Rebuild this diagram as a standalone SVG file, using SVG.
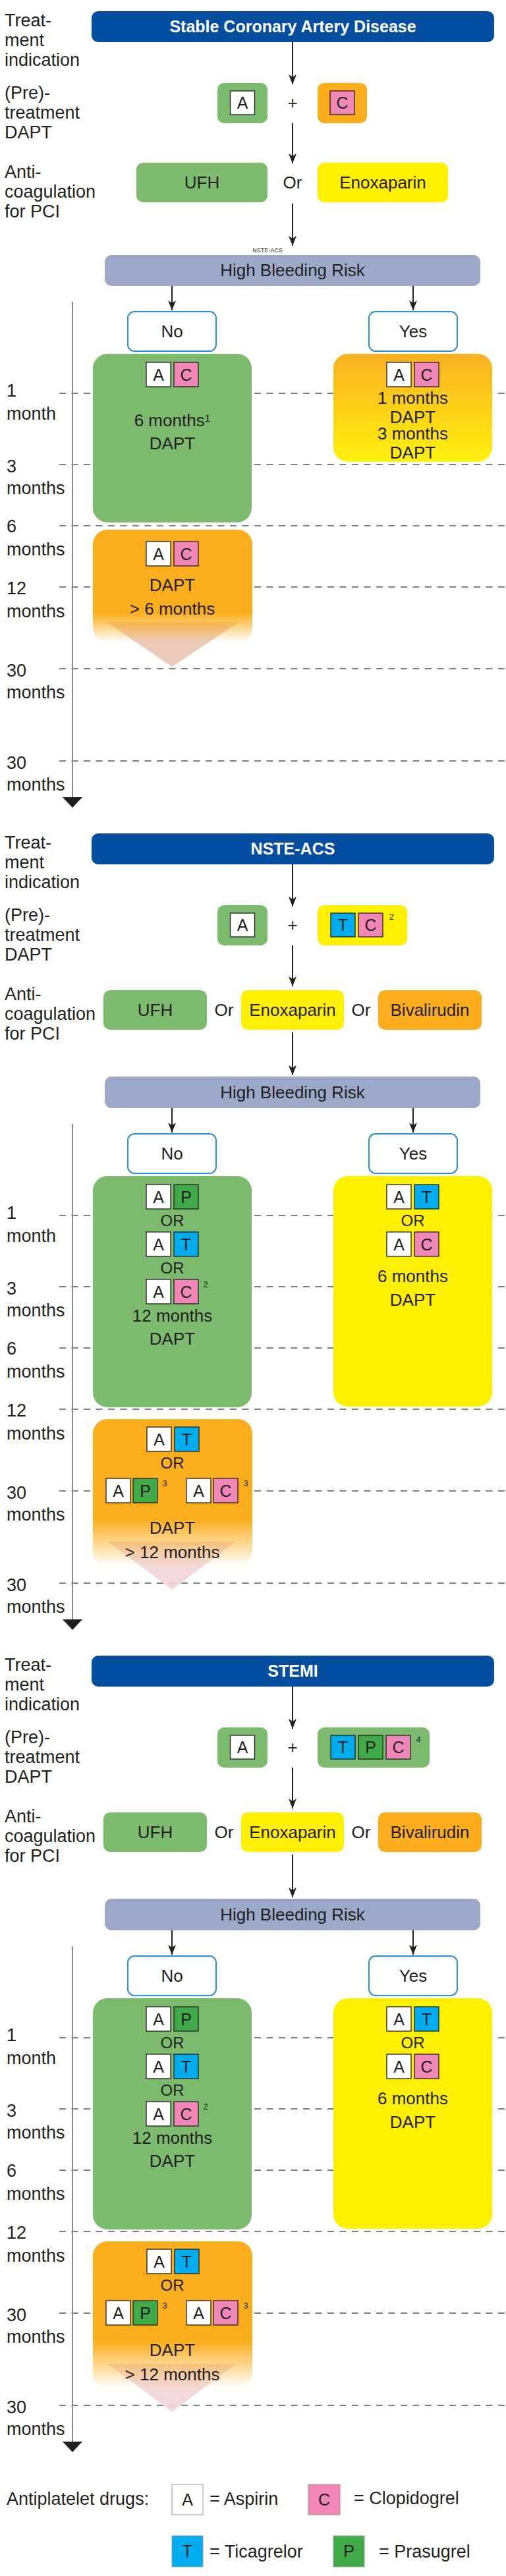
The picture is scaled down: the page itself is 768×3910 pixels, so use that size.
<svg xmlns="http://www.w3.org/2000/svg" width="768" height="3910" viewBox="0 0 768 3910">
<defs>
<style>
.f{font-family:"Liberation Sans",Arial,sans-serif;fill:#231f20}
.c{text-anchor:middle}
.lb{font-size:27px}
.m{font-size:26px}
.o{font-size:24px}
.h{font-size:25px;font-weight:bold;fill:#ffffff}
.d{font-size:25px}
.s{font-size:13px}
.tiny{font-size:9px}
.hdr{fill:#044ea1}
.grn{fill:#7cbb6d}
.org{fill:#fbad1b}
.yel{fill:#fff000}
.hbr{fill:#9da8c8}
.yn{fill:#ffffff;stroke:#2a8fd6;stroke-width:2}
.db{stroke:#231f20;stroke-width:1.3}
.bA{fill:#ffffff}
.bC{fill:#f087b7}
.bT{fill:#00adee}
.bP{fill:#40aa48}
.lg{stroke:#999999;stroke-width:1}
.dash{stroke:#555555;stroke-width:1.5;stroke-dasharray:10 8.5;fill:none}
.tl{stroke:#8a8a8a;stroke-width:2;fill:none}
.ah{fill:#231f20}
.conn{stroke:#231f20;stroke-width:2;fill:none;marker-end:url(#arrow)}
</style>
<marker id="arrow" viewBox="0 0 15 12" refX="15" refY="6" markerWidth="15" markerHeight="12" markerUnits="userSpaceOnUse" orient="auto">
<path d="M0,0 L15,6 L0,12 L4,6 Z" fill="#231f20"/>
</marker>
<linearGradient id="yesGrad" x1="0" y1="0" x2="0" y2="1">
<stop offset="0" stop-color="#f9b022"/>
<stop offset="1" stop-color="#fff10d"/>
</linearGradient>
<linearGradient id="fade1" x1="0" y1="0" x2="0" y2="1">
<stop offset="0" stop-color="#fbae1c" stop-opacity="1"/>
<stop offset="0.74" stop-color="#fbae1c" stop-opacity="1"/>
<stop offset="1" stop-color="#fbae1c" stop-opacity="0"/>
</linearGradient>
<linearGradient id="fade2" x1="0" y1="0" x2="0" y2="1">
<stop offset="0" stop-color="#fbae1c" stop-opacity="1"/>
<stop offset="0.68" stop-color="#fbae1c" stop-opacity="1"/>
<stop offset="1" stop-color="#fbae1c" stop-opacity="0"/>
</linearGradient>
</defs>
<rect x="0" y="0" width="768" height="3910" fill="#ffffff"/>

<!-- ============ SECTION 1 ============ -->
<g id="s1-rowlabels">
<text x="7" y="40" class="f lb">Treat-</text>
<text x="7" y="70" class="f lb">ment</text>
<text x="7" y="100" class="f lb">indication</text>
<text x="7" y="150" class="f lb">(Pre)-</text>
<text x="7" y="180" class="f lb">treatment</text>
<text x="7" y="210" class="f lb">DAPT</text>
<text x="7" y="270" class="f lb">Anti-</text>
<text x="7" y="300" class="f lb">coagulation</text>
<text x="7" y="330" class="f lb">for PCI</text>
</g>
<g id="s1-header"><rect x="139" y="17" width="611" height="47" rx="10" class="hdr"/><text x="444.5" y="49" class="f h c">Stable Coronary Artery Disease</text></g>
<g id="s1-pre-A"><rect x="330" y="126" width="76" height="61" rx="10" class="grn"/><rect x="349.5" y="138" width="37" height="36" class="db bA"/><text x="368" y="165" class="f d c">A</text></g>
<g id="s1-plus"><text x="444" y="165" class="f m c">+</text></g>
<g id="s1-pre-C"><rect x="482" y="126" width="75" height="61" rx="10" class="org"/><rect x="501" y="138" width="37" height="36" class="db bC"/><text x="519.5" y="165" class="f d c">C</text></g>
<g id="s1-ufh"><rect x="207" y="247" width="199" height="60" rx="10" class="grn"/><text x="306.5" y="286" class="f m c">UFH</text></g>
<g id="s1-or"><text x="444" y="286" class="f m c">Or</text></g>
<g id="s1-enox"><rect x="482" y="247" width="198" height="60" rx="10" class="yel"/><text x="581" y="286" class="f m c">Enoxaparin</text></g>
<g id="s1-note"><text x="406" y="383" class="f tiny c">NSTE-ACS</text></g>
<g id="s1-hbr"><rect x="159" y="387" width="570" height="47" rx="10" class="hbr"/><text x="444" y="419" class="f m c">High Bleeding Risk</text></g>

<g id="s1-timeline">
<line x1="90" y1="597" x2="768" y2="597" class="dash"/>
<line x1="90" y1="705" x2="768" y2="705" class="dash"/>
<line x1="90" y1="798" x2="768" y2="798" class="dash"/>
<line x1="90" y1="891" x2="768" y2="891" class="dash"/>
<line x1="90" y1="1015" x2="768" y2="1015" class="dash"/>
<line x1="90" y1="1155" x2="768" y2="1155" class="dash"/>
<line x1="110" y1="458" x2="110" y2="1212" class="tl"/>
<polygon points="95,1210 125,1210 110,1226" class="ah"/>
<text x="10" y="602" class="f lb">1</text><text x="10" y="637" class="f lb">month</text>
<text x="10" y="717" class="f lb">3</text><text x="10" y="750" class="f lb">months</text>
<text x="10" y="808" class="f lb">6</text><text x="10" y="843" class="f lb">months</text>
<text x="10" y="902" class="f lb">12</text><text x="10" y="937" class="f lb">months</text>
<text x="10" y="1027" class="f lb">30</text><text x="10" y="1060" class="f lb">months</text>
<text x="10" y="1167" class="f lb">30</text><text x="10" y="1200" class="f lb">months</text>
</g>

<g id="s1-no"><rect x="194" y="473" width="134" height="60" rx="10" class="yn"/><text x="261" y="512" class="f m c">No</text></g>
<g id="s1-yes"><rect x="560" y="473" width="134" height="60" rx="10" class="yn"/><text x="627" y="512" class="f m c">Yes</text></g>

<g id="s1-no-6m">
<rect x="141" y="537" width="241" height="256" rx="22" class="grn"/>
<rect x="222" y="550" width="37" height="37" class="db bA"/><text x="240.5" y="577.5" class="f d c">A</text>
<rect x="264" y="550" width="37" height="37" class="db bC"/><text x="282.5" y="577.5" class="f d c">C</text>
<text x="261.5" y="647" class="f m c">6 months¹</text>
<text x="261.5" y="682" class="f m c">DAPT</text>
</g>
<g id="s1-yes-short">
<rect x="506" y="537" width="241" height="164" rx="22" fill="url(#yesGrad)"/>
<rect x="587" y="550" width="37" height="37" class="db bA"/><text x="605.5" y="577.5" class="f d c">A</text>
<rect x="629" y="550" width="37" height="37" class="db bC"/><text x="647.5" y="577.5" class="f d c">C</text>
<text x="626.5" y="613" class="f m c">1 months</text>
<text x="626.5" y="642" class="f m c">DAPT</text>
<text x="626.5" y="667" class="f m c">3 months</text>
<text x="626.5" y="696" class="f m c">DAPT</text>
</g>
<g id="s1-no-long">
<polygon points="161,944 363,944 261,1012" fill="#ebcab9"/>
<rect x="141" y="804" width="242" height="171" rx="22" fill="url(#fade1)"/>
<rect x="222" y="822" width="37" height="37" class="db bA"/><text x="240.5" y="849.5" class="f d c">A</text>
<rect x="264" y="822" width="37" height="37" class="db bC"/><text x="282.5" y="849.5" class="f d c">C</text>
<text x="261.5" y="897" class="f m c">DAPT</text>
<text x="261.5" y="933" class="f m c">&gt; 6 months</text>
</g>

<!-- ============ SECTION 2 ============ -->
<g id="s2-rowlabels">
<text x="7" y="1288" class="f lb">Treat-</text>
<text x="7" y="1318" class="f lb">ment</text>
<text x="7" y="1348" class="f lb">indication</text>
<text x="7" y="1398" class="f lb">(Pre)-</text>
<text x="7" y="1428" class="f lb">treatment</text>
<text x="7" y="1458" class="f lb">DAPT</text>
<text x="7" y="1518" class="f lb">Anti-</text>
<text x="7" y="1548" class="f lb">coagulation</text>
<text x="7" y="1578" class="f lb">for PCI</text>
</g>
<g id="s2-header"><rect x="139" y="1265" width="611" height="47" rx="10" class="hdr"/><text x="444.5" y="1297" class="f h c">NSTE-ACS</text></g>
<g id="s2-pre-A"><rect x="330" y="1374" width="76" height="61" rx="10" class="grn"/><rect x="349.5" y="1386" width="37" height="36" class="db bA"/><text x="368" y="1413" class="f d c">A</text></g>
<g id="s2-plus"><text x="444" y="1413" class="f m c">+</text></g>
<g id="s2-pre-TC"><rect x="482" y="1374" width="136" height="61" rx="10" class="yel"/>
<rect x="502" y="1386" width="37" height="36" class="db bT"/><text x="520.5" y="1413" class="f d c">T</text>
<rect x="544" y="1386" width="37" height="36" class="db bC"/><text x="562.5" y="1413" class="f d c">C</text>
<text x="594" y="1396" class="f s c">2</text></g>
<g id="s2-ufh"><rect x="157" y="1503" width="157" height="60" rx="10" class="grn"/><text x="235.5" y="1542" class="f m c">UFH</text></g>
<g id="s2-or1"><text x="340" y="1542" class="f m c">Or</text></g>
<g id="s2-enox"><rect x="366" y="1503" width="156" height="60" rx="10" class="yel"/><text x="444" y="1542" class="f m c">Enoxaparin</text></g>
<g id="s2-or2"><text x="548" y="1542" class="f m c">Or</text></g>
<g id="s2-bival"><rect x="574" y="1503" width="157" height="60" rx="10" class="org"/><text x="652.5" y="1542" class="f m c">Bivalirudin</text></g>
<g id="s2-hbr"><rect x="159" y="1634" width="570" height="48" rx="10" class="hbr"/><text x="444" y="1667" class="f m c">High Bleeding Risk</text></g>

<g id="s2-timeline">
<line x1="90" y1="1845" x2="768" y2="1845" class="dash"/>
<line x1="90" y1="1953" x2="768" y2="1953" class="dash"/>
<line x1="90" y1="2046" x2="768" y2="2046" class="dash"/>
<line x1="90" y1="2139" x2="768" y2="2139" class="dash"/>
<line x1="90" y1="2263" x2="768" y2="2263" class="dash"/>
<line x1="90" y1="2403" x2="768" y2="2403" class="dash"/>
<line x1="110" y1="1706" x2="110" y2="2460" class="tl"/>
<polygon points="95,2458 125,2458 110,2474" class="ah"/>
<text x="10" y="1850" class="f lb">1</text><text x="10" y="1885" class="f lb">month</text>
<text x="10" y="1965" class="f lb">3</text><text x="10" y="1998" class="f lb">months</text>
<text x="10" y="2056" class="f lb">6</text><text x="10" y="2091" class="f lb">months</text>
<text x="10" y="2150" class="f lb">12</text><text x="10" y="2185" class="f lb">months</text>
<text x="10" y="2275" class="f lb">30</text><text x="10" y="2308" class="f lb">months</text>
<text x="10" y="2415" class="f lb">30</text><text x="10" y="2448" class="f lb">months</text>
</g>

<g id="s2-no"><rect x="194" y="1721" width="134" height="60" rx="10" class="yn"/><text x="261" y="1760" class="f m c">No</text></g>
<g id="s2-yes"><rect x="560" y="1721" width="134" height="60" rx="10" class="yn"/><text x="627" y="1760" class="f m c">Yes</text></g>

<g id="s2-no-12m">
<rect x="141" y="1785" width="241" height="351" rx="22" class="grn"/>
<rect x="222" y="1798" width="37" height="37" class="db bA"/><text x="240.5" y="1825.5" class="f d c">A</text>
<rect x="264" y="1798" width="37" height="37" class="db bP"/><text x="282.5" y="1825.5" class="f d c">P</text>
<text x="261.5" y="1861" class="f o c">OR</text>
<rect x="222" y="1870" width="37" height="37" class="db bA"/><text x="240.5" y="1897.5" class="f d c">A</text>
<rect x="264" y="1870" width="37" height="37" class="db bT"/><text x="282.5" y="1897.5" class="f d c">T</text>
<text x="261.5" y="1933" class="f o c">OR</text>
<rect x="222" y="1942" width="37" height="37" class="db bA"/><text x="240.5" y="1969.5" class="f d c">A</text>
<rect x="264" y="1942" width="37" height="37" class="db bC"/><text x="282.5" y="1969.5" class="f d c">C</text>
<text x="312" y="1954" class="f s c">2</text>
<text x="261.5" y="2006" class="f m c">12 months</text>
<text x="261.5" y="2041" class="f m c">DAPT</text>
</g>
<g id="s2-yes-6m">
<rect x="506" y="1785" width="241" height="350" rx="22" class="yel"/>
<rect x="587" y="1798" width="37" height="37" class="db bA"/><text x="605.5" y="1825.5" class="f d c">A</text>
<rect x="629" y="1798" width="37" height="37" class="db bT"/><text x="647.5" y="1825.5" class="f d c">T</text>
<text x="626.5" y="1861" class="f o c">OR</text>
<rect x="587" y="1870" width="37" height="37" class="db bA"/><text x="605.5" y="1897.5" class="f d c">A</text>
<rect x="629" y="1870" width="37" height="37" class="db bC"/><text x="647.5" y="1897.5" class="f d c">C</text>
<text x="626.5" y="1946" class="f m c">6 months</text>
<text x="626.5" y="1982" class="f m c">DAPT</text>
</g>
<g id="s2-no-long">
<polygon points="164,2340 358,2340 261,2413" fill="#f1d4d6" opacity="0.9"/>
<rect x="141" y="2154" width="242" height="223" rx="22" fill="url(#fade2)"/>
<rect x="223" y="2166" width="37" height="37" class="db bA"/><text x="241.5" y="2193.5" class="f d c">A</text>
<rect x="265" y="2166" width="37" height="37" class="db bT"/><text x="283.5" y="2193.5" class="f d c">T</text>
<text x="261.5" y="2229" class="f o c">OR</text>
<rect x="161" y="2244" width="37" height="37" class="db bA"/><text x="179.5" y="2271.5" class="f d c">A</text>
<rect x="202" y="2244" width="37" height="37" class="db bP"/><text x="220.5" y="2271.5" class="f d c">P</text>
<text x="250" y="2256" class="f s c">3</text>
<rect x="283" y="2244" width="37" height="37" class="db bA"/><text x="301.5" y="2271.5" class="f d c">A</text>
<rect x="324" y="2244" width="37" height="37" class="db bC"/><text x="342.5" y="2271.5" class="f d c">C</text>
<text x="373" y="2256" class="f s c">3</text>
<text x="261.5" y="2328" class="f m c">DAPT</text>
<text x="261.5" y="2365" class="f m c">&gt; 12 months</text>
</g>

<!-- ============ SECTION 3 ============ -->
<g id="s3-rowlabels">
<text x="7" y="2536" class="f lb">Treat-</text>
<text x="7" y="2566" class="f lb">ment</text>
<text x="7" y="2596" class="f lb">indication</text>
<text x="7" y="2646" class="f lb">(Pre)-</text>
<text x="7" y="2676" class="f lb">treatment</text>
<text x="7" y="2706" class="f lb">DAPT</text>
<text x="7" y="2766" class="f lb">Anti-</text>
<text x="7" y="2796" class="f lb">coagulation</text>
<text x="7" y="2826" class="f lb">for PCI</text>
</g>
<g id="s3-header"><rect x="139" y="2513" width="611" height="47" rx="10" class="hdr"/><text x="444.5" y="2545" class="f h c">STEMI</text></g>
<g id="s3-pre-A"><rect x="330" y="2622" width="76" height="61" rx="10" class="grn"/><rect x="349.5" y="2634" width="37" height="36" class="db bA"/><text x="368" y="2661" class="f d c">A</text></g>
<g id="s3-plus"><text x="444" y="2661" class="f m c">+</text></g>
<g id="s3-pre-TPC"><rect x="482" y="2622" width="170" height="61" rx="10" class="grn"/>
<rect x="502" y="2634" width="37" height="36" class="db bT"/><text x="520.5" y="2661" class="f d c">T</text>
<rect x="544" y="2634" width="37" height="36" class="db bP"/><text x="562.5" y="2661" class="f d c">P</text>
<rect x="586" y="2634" width="37" height="36" class="db bC"/><text x="604.5" y="2661" class="f d c">C</text>
<text x="635" y="2645" class="f s c">4</text></g>
<g id="s3-ufh"><rect x="157" y="2751" width="157" height="60" rx="10" class="grn"/><text x="235.5" y="2790" class="f m c">UFH</text></g>
<g id="s3-or1"><text x="340" y="2790" class="f m c">Or</text></g>
<g id="s3-enox"><rect x="366" y="2751" width="156" height="60" rx="10" class="yel"/><text x="444" y="2790" class="f m c">Enoxaparin</text></g>
<g id="s3-or2"><text x="548" y="2790" class="f m c">Or</text></g>
<g id="s3-bival"><rect x="574" y="2751" width="157" height="60" rx="10" class="org"/><text x="652.5" y="2790" class="f m c">Bivalirudin</text></g>
<g id="s3-hbr"><rect x="159" y="2882" width="570" height="48" rx="10" class="hbr"/><text x="444" y="2915" class="f m c">High Bleeding Risk</text></g>

<g id="s3-timeline">
<line x1="90" y1="3093" x2="768" y2="3093" class="dash"/>
<line x1="90" y1="3201" x2="768" y2="3201" class="dash"/>
<line x1="90" y1="3294" x2="768" y2="3294" class="dash"/>
<line x1="90" y1="3387" x2="768" y2="3387" class="dash"/>
<line x1="90" y1="3511" x2="768" y2="3511" class="dash"/>
<line x1="90" y1="3651" x2="768" y2="3651" class="dash"/>
<line x1="110" y1="2954" x2="110" y2="3708" class="tl"/>
<polygon points="95,3706 125,3706 110,3722" class="ah"/>
<text x="10" y="3098" class="f lb">1</text><text x="10" y="3133" class="f lb">month</text>
<text x="10" y="3213" class="f lb">3</text><text x="10" y="3246" class="f lb">months</text>
<text x="10" y="3304" class="f lb">6</text><text x="10" y="3339" class="f lb">months</text>
<text x="10" y="3398" class="f lb">12</text><text x="10" y="3433" class="f lb">months</text>
<text x="10" y="3523" class="f lb">30</text><text x="10" y="3556" class="f lb">months</text>
<text x="10" y="3663" class="f lb">30</text><text x="10" y="3696" class="f lb">months</text>
</g>

<g id="s3-no"><rect x="194" y="2969" width="134" height="60" rx="10" class="yn"/><text x="261" y="3008" class="f m c">No</text></g>
<g id="s3-yes"><rect x="560" y="2969" width="134" height="60" rx="10" class="yn"/><text x="627" y="3008" class="f m c">Yes</text></g>

<g id="s3-no-12m">
<rect x="141" y="3033" width="241" height="351" rx="22" class="grn"/>
<rect x="222" y="3046" width="37" height="37" class="db bA"/><text x="240.5" y="3073.5" class="f d c">A</text>
<rect x="264" y="3046" width="37" height="37" class="db bP"/><text x="282.5" y="3073.5" class="f d c">P</text>
<text x="261.5" y="3109" class="f o c">OR</text>
<rect x="222" y="3118" width="37" height="37" class="db bA"/><text x="240.5" y="3145.5" class="f d c">A</text>
<rect x="264" y="3118" width="37" height="37" class="db bT"/><text x="282.5" y="3145.5" class="f d c">T</text>
<text x="261.5" y="3181" class="f o c">OR</text>
<rect x="222" y="3190" width="37" height="37" class="db bA"/><text x="240.5" y="3217.5" class="f d c">A</text>
<rect x="264" y="3190" width="37" height="37" class="db bC"/><text x="282.5" y="3217.5" class="f d c">C</text>
<text x="312" y="3202" class="f s c">2</text>
<text x="261.5" y="3254" class="f m c">12 months</text>
<text x="261.5" y="3289" class="f m c">DAPT</text>
</g>
<g id="s3-yes-6m">
<rect x="506" y="3033" width="241" height="350" rx="22" class="yel"/>
<rect x="587" y="3046" width="37" height="37" class="db bA"/><text x="605.5" y="3073.5" class="f d c">A</text>
<rect x="629" y="3046" width="37" height="37" class="db bT"/><text x="647.5" y="3073.5" class="f d c">T</text>
<text x="626.5" y="3109" class="f o c">OR</text>
<rect x="587" y="3118" width="37" height="37" class="db bA"/><text x="605.5" y="3145.5" class="f d c">A</text>
<rect x="629" y="3118" width="37" height="37" class="db bC"/><text x="647.5" y="3145.5" class="f d c">C</text>
<text x="626.5" y="3194" class="f m c">6 months</text>
<text x="626.5" y="3230" class="f m c">DAPT</text>
</g>
<g id="s3-no-long">
<polygon points="164,3588 358,3588 261,3661" fill="#f1d4d6" opacity="0.9"/>
<rect x="141" y="3402" width="242" height="223" rx="22" fill="url(#fade2)"/>
<rect x="223" y="3414" width="37" height="37" class="db bA"/><text x="241.5" y="3441.5" class="f d c">A</text>
<rect x="265" y="3414" width="37" height="37" class="db bT"/><text x="283.5" y="3441.5" class="f d c">T</text>
<text x="261.5" y="3477" class="f o c">OR</text>
<rect x="161" y="3492" width="37" height="37" class="db bA"/><text x="179.5" y="3519.5" class="f d c">A</text>
<rect x="202" y="3492" width="37" height="37" class="db bP"/><text x="220.5" y="3519.5" class="f d c">P</text>
<text x="250" y="3504" class="f s c">3</text>
<rect x="283" y="3492" width="37" height="37" class="db bA"/><text x="301.5" y="3519.5" class="f d c">A</text>
<rect x="324" y="3492" width="37" height="37" class="db bC"/><text x="342.5" y="3519.5" class="f d c">C</text>
<text x="373" y="3504" class="f s c">3</text>
<text x="261.5" y="3576" class="f m c">DAPT</text>
<text x="261.5" y="3613" class="f m c">&gt; 12 months</text>
</g>

<!-- ============ LEGEND ============ -->
<g id="legend">
<text x="10" y="3802" class="f lb">Antiplatelet drugs:</text>
<rect x="261" y="3771" width="47" height="46" class="lg bA"/><text x="284.5" y="3803" class="f d c">A</text>
<text x="318" y="3802" class="f lb">= Aspirin</text>
<rect x="468" y="3771" width="48" height="46" class="lg bC"/><text x="492" y="3803" class="f d c">C</text>
<text x="537" y="3801" class="f lb">= Clopidogrel</text>
<rect x="261" y="3849" width="47" height="47" class="lg bT"/><text x="284.5" y="3881" class="f d c">T</text>
<text x="318" y="3882" class="f lb">= Ticagrelor</text>
<rect x="506" y="3849" width="47" height="47" class="lg bP"/><text x="529.5" y="3881" class="f d c">P</text>
<text x="575" y="3882" class="f lb">= Prasugrel</text>
</g>

<!-- ============ CONNECTORS ============ -->
<g id="connectors">
<line x1="444" y1="64" x2="444" y2="128" class="conn"/>
<line x1="444" y1="187" x2="444" y2="248" class="conn"/>
<line x1="444" y1="309" x2="444" y2="373" class="conn"/>
<line x1="261" y1="434" x2="261" y2="471" class="conn"/>
<line x1="627" y1="434" x2="627" y2="471" class="conn"/>

<line x1="444" y1="1312" x2="444" y2="1376" class="conn"/>
<line x1="444" y1="1435" x2="444" y2="1497" class="conn"/>
<line x1="444" y1="1567" x2="444" y2="1632" class="conn"/>
<line x1="261" y1="1682" x2="261" y2="1719" class="conn"/>
<line x1="627" y1="1682" x2="627" y2="1719" class="conn"/>

<line x1="444" y1="2560" x2="444" y2="2624" class="conn"/>
<line x1="444" y1="2683" x2="444" y2="2745" class="conn"/>
<line x1="444" y1="2815" x2="444" y2="2880" class="conn"/>
<line x1="261" y1="2930" x2="261" y2="2967" class="conn"/>
<line x1="627" y1="2930" x2="627" y2="2967" class="conn"/>
</g>
</svg>
